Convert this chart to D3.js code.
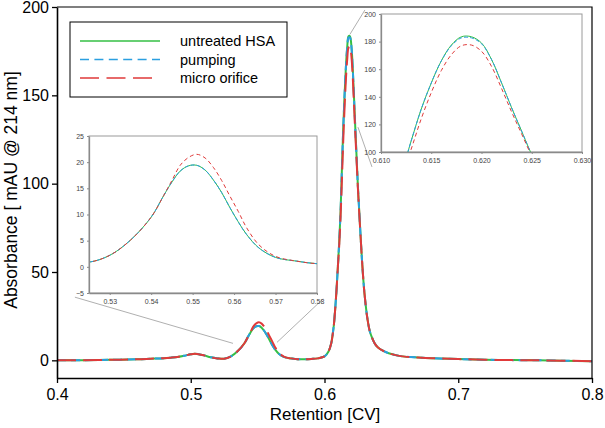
<!DOCTYPE html>
<html>
<head>
<meta charset="utf-8">
<script src="https://cdn.jsdelivr.net/npm/d3@7/dist/d3.min.js"></script>
<style>
  html, body { margin: 0; padding: 0; background: #fff; }
  svg { display: block; font-family: "Liberation Sans", Arial, sans-serif; }
</style>
</head>
<body>
<svg id="chart" width="605" height="428"></svg>
<script>
// ---------------- data ----------------
const retention = [
  0.400, 0.420, 0.440, 0.460, 0.470, 0.480, 0.485, 0.490, 0.495, 0.500,
  0.503, 0.506, 0.510, 0.515, 0.520, 0.525, 0.530, 0.535, 0.540, 0.543,
  0.545, 0.547, 0.549, 0.551, 0.553, 0.555, 0.557, 0.559, 0.561, 0.563,
  0.566, 0.570, 0.575, 0.580, 0.585, 0.590, 0.595, 0.600, 0.603, 0.605,
  0.606, 0.607, 0.608, 0.609, 0.610, 0.611, 0.612, 0.613, 0.614, 0.615,
  0.616, 0.617, 0.618, 0.619, 0.620, 0.621, 0.622, 0.623, 0.624, 0.625,
  0.626, 0.627, 0.628, 0.629, 0.630, 0.632, 0.634, 0.636, 0.638, 0.640,
  0.644, 0.648, 0.654, 0.660, 0.670, 0.680, 0.700, 0.730, 0.760, 0.800
];
const untreatedHSA = [
  0.1, 0.1, 0.3, 0.6, 0.9, 1.2, 1.5, 1.9, 2.6, 3.4,
  3.7, 3.5, 2.8, 1.7, 1.1, 0.9, 2.2, 5.1, 9.5, 13.6,
  16.2, 18.3, 19.3, 19.4, 18.5, 16.6, 14.2, 11.3, 8.6, 6.2,
  3.6, 1.8, 1.1, 0.6, 0.6, 0.8, 1.1, 2.2, 5.0, 9.5,
  14, 20, 29, 40, 53, 67, 84, 108, 131, 150,
  166, 177.5, 183.5, 183.5, 179, 167, 150, 132, 115, 98,
  84, 70, 57, 46, 37, 24, 16, 12, 9, 7.3,
  5.3, 4.0, 2.8, 2.1, 1.6, 1.2, 0.7, 0.2, 0.0, -0.5
];
const pumping = [
  0.1, 0.1, 0.3, 0.6, 0.9, 1.2, 1.5, 1.9, 2.6, 3.4,
  3.7, 3.5, 2.8, 1.7, 1.1, 0.9, 2.2, 5.1, 9.5, 13.6,
  16.2, 18.3, 19.3, 19.4, 18.5, 16.6, 14.2, 11.3, 8.6, 6.2,
  3.6, 1.8, 1.1, 0.6, 0.6, 0.8, 1.1, 2.2, 5.0, 9.5,
  14, 20, 29, 40, 53, 67, 84, 108, 131, 150,
  166, 177, 182.7, 182.7, 178.5, 167, 150, 132, 115, 98,
  84, 70, 57, 46, 37, 24, 16, 12, 9, 7.3,
  5.3, 4.0, 2.8, 2.1, 1.6, 1.2, 0.7, 0.2, 0.0, -0.5
];
const microOrifice = [
  0.1, 0.1, 0.3, 0.6, 0.9, 1.2, 1.5, 1.9, 2.6, 3.4,
  3.7, 3.5, 2.8, 1.7, 1.1, 0.9, 2.2, 5.1, 9.5, 13.6,
  16.5, 19.4, 20.9, 21.5, 20.8, 19.0, 16.5, 13.5, 10.6, 7.5,
  4.2, 2.0, 1.1, 0.6, 0.6, 0.8, 1.1, 2.2, 5.0, 9.5,
  14, 20, 29, 40, 53, 65, 81, 102, 124, 143,
  159, 170.5, 177, 177.5, 173, 162, 146, 129, 113, 97,
  83, 70, 57, 46, 37, 24, 16, 12, 9, 7.3,
  5.3, 4.0, 2.8, 2.1, 1.6, 1.2, 0.7, 0.2, 0.0, -0.5
];
const seriesNames  = ["untreated HSA", "pumping", "micro orifice"];
const seriesColors = ["#35bf45", "#2b9fe0", "#e03a3a"];

const xTicks  = [0.4, 0.5, 0.6, 0.7, 0.8];
const yTicks  = [0, 50, 100, 150, 200];
const inset1XTicks = [0.53, 0.54, 0.55, 0.56, 0.57, 0.58];
const inset1YTicks = [-5, 0, 5, 10, 15, 20, 25];
const inset2XTicks = [0.610, 0.615, 0.620, 0.625, 0.630];
const inset2YTicks = [100, 120, 140, 160, 180, 200];

// zoom connector anchors [main point (x,y), inset point (x,y in inset units)]
const connector1 = { main: [0.5316, 9.6],  inset: [0.5216, -5.8] };
const connector2 = { main: [0.5645, 10.2], inset: [0.5815, -6.1] };
const connector3 = { main: [0.6190, 184.5], inset: [0.6084, 202.9] };
const connector4 = { main: [0.6250, 132.0], inset: [0.6091, 89.2] };

// ---------------- build ----------------
const allSeries = [untreatedHSA, pumping, microOrifice].map((vals, i) => ({
  name: seriesNames[i], color: seriesColors[i],
  points: retention.map((r, j) => ({ x: r, y: vals[j] }))
}));

const svg = d3.select("#chart");

// main scales
const x = d3.scaleLinear().domain([0.4, 0.8]).range([57, 592]);
const y = d3.scaleLinear().domain([-10, 200]).range([378, 7]);

// inset scales
const x1 = d3.scaleLinear().domain([0.525, 0.58]).range([89, 317]);
const y1 = d3.scaleLinear().domain([-5, 25]).range([293, 136]);
const x2 = d3.scaleLinear().domain([0.61, 0.63]).range([381, 582]);
const y2 = d3.scaleLinear().domain([100, 200]).range([152, 14]);

const defs = svg.append("defs");
function clip(id, xs, ys) {
  defs.append("clipPath").attr("id", id).append("rect")
    .attr("x", xs.range()[0]).attr("y", ys.range()[1])
    .attr("width", xs.range()[1] - xs.range()[0])
    .attr("height", ys.range()[0] - ys.range()[1]);
}
clip("clipMain", x, y);
clip("clipI1", x1, y1);
clip("clipI2", x2, y2);

const mainDash  = [null, "9,5", "19,7"];
const insetDash = [null, "4,2", "4,3"];

function drawLines(g, xs, ys, width, dashes) {
  const line = d3.line().x(d => xs(d.x)).y(d => ys(d.y)).curve(d3.curveCatmullRom.alpha(0.5));
  allSeries.forEach((s, i) => {
    g.append("path").datum(s.points)
      .attr("d", line)
      .attr("fill", "none")
      .attr("stroke", s.color)
      .attr("stroke-width", width)
      .attr("stroke-dasharray", dashes[i])
      .attr("stroke-linejoin", "round");
  });
}

// connectors (behind everything)
const conn = svg.append("g").attr("stroke", "#b0b0b0").attr("stroke-width", 1);
[[connector1, x1, y1], [connector2, x1, y1], [connector3, x2, y2], [connector4, x2, y2]].forEach(([c, xs, ys]) => {
  conn.append("line")
    .attr("x1", x(c.main[0])).attr("y1", y(c.main[1]))
    .attr("x2", xs(c.inset[0])).attr("y2", ys(c.inset[1]));
});

// main lines
drawLines(svg.append("g").attr("clip-path", "url(#clipMain)"), x, y, 2, mainDash);

// main frame: top & right
svg.append("path")
  .attr("d", `M${x(0.4)},${y(200)}H${x(0.8)}V${y(-10)}`)
  .attr("fill", "none").attr("stroke", "#000").attr("stroke-width", 1.2);

// axes
const gx = svg.append("g").attr("transform", `translate(0,${y(-10)})`)
  .call(d3.axisBottom(x).tickValues(xTicks).tickFormat(d3.format(".1f")).tickSize(5).tickSizeOuter(0).tickPadding(6));
const gy = svg.append("g").attr("transform", `translate(${x(0.4)},0)`)
  .call(d3.axisLeft(y).tickValues(yTicks).tickSize(5).tickSizeOuter(0).tickPadding(3));
[gx, gy].forEach(g => {
  g.selectAll("path").attr("stroke", "#000").attr("stroke-width", 1.6);
  g.selectAll("line").attr("stroke", "#000").attr("stroke-width", 1.3);
  g.selectAll("text").attr("fill", "#000").style("font-size", "16px")
    .style("font-family", '"Liberation Sans", Arial, sans-serif');
});

// axis titles
svg.append("text")
  .attr("x", 325).attr("y", 420).attr("text-anchor", "middle")
  .style("font-size", "17px").text("Retention [CV]");
svg.append("text")
  .attr("transform", "translate(17,190) rotate(-90)")
  .attr("text-anchor", "middle")
  .style("font-size", "17.5px").text("Absorbance [ mAU @ 214 nm]");

// legend
const leg = svg.append("g");
leg.append("rect").attr("x", 70).attr("y", 22).attr("width", 217).attr("height", 75)
  .attr("fill", "#fff").attr("stroke", "#000").attr("stroke-width", 1);
const legDash = [null, "9,5.4", "19,7.5"];
const legEnd  = [160, 160, 152];
allSeries.forEach((s, i) => {
  const ly = 41 + i * 18.5;
  leg.append("line").attr("x1", 80).attr("x2", legEnd[i]).attr("y1", ly).attr("y2", ly)
    .attr("stroke", s.color).attr("stroke-width", 1.5).attr("stroke-dasharray", legDash[i]);
  leg.append("text").attr("x", 180).attr("y", ly + 5)
    .style("font-size", "14.5px").attr("fill", "#000").text(s.name);
});

// insets
function drawInset(xs, ys, xt, yt, xfmt, clipId) {
  const g = svg.append("g");
  g.append("rect")
    .attr("x", xs.range()[0]).attr("y", ys.range()[1])
    .attr("width", xs.range()[1] - xs.range()[0])
    .attr("height", ys.range()[0] - ys.range()[1])
    .attr("fill", "#fff").attr("stroke", "#9a9a9a").attr("stroke-width", 1);
  drawLines(g.append("g").attr("clip-path", `url(#${clipId})`), xs, ys, 1, insetDash);
  const ax = g.append("g").attr("transform", `translate(0,${ys.range()[0]})`)
    .call(d3.axisBottom(xs).tickValues(xt).tickFormat(xfmt).tickSize(2).tickSizeOuter(0).tickPadding(4));
  const ay = g.append("g").attr("transform", `translate(${xs.range()[0]},0)`)
    .call(d3.axisLeft(ys).tickValues(yt).tickSize(2).tickSizeOuter(0).tickPadding(3));
  [ax, ay].forEach(a => {
    a.selectAll("path").attr("stroke", "#8a8a8a").attr("stroke-width", 1.3);
    a.selectAll("line").attr("stroke", "#8a8a8a");
    a.selectAll("text").attr("fill", "#444").style("font-size", "7px")
      .style("font-family", '"Liberation Sans", Arial, sans-serif');
  });
}
drawInset(x1, y1, inset1XTicks, inset1YTicks, d3.format(".2f"), "clipI1");
drawInset(x2, y2, inset2XTicks, inset2YTicks, d3.format(".3f"), "clipI2");
</script>
</body>
</html>
